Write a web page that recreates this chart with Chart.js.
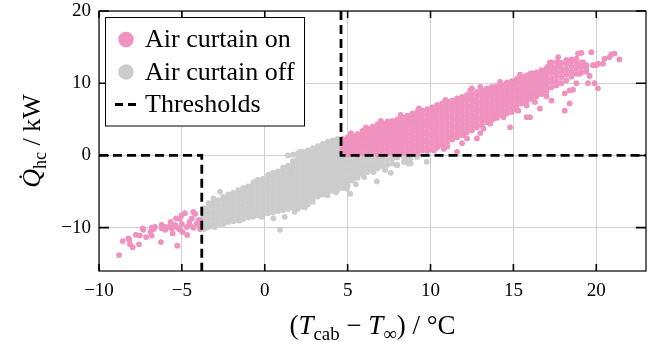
<!DOCTYPE html>
<html>
<head>
<meta charset="UTF-8">
<title>Air curtain heat flow</title>
<script src="https://cdn.jsdelivr.net/npm/chart.js@4.4.0/dist/chart.umd.min.js"></script>
<style>
  body { margin: 0; background: #fff; }
  #wrap { width: 667px; height: 342px; }
</style>
</head>
<body>
<div id="wrap"><canvas id="myChart" width="667" height="342"></canvas></div>
<script>
// axis ranges, ticks and thresholds
const xRange = [-10, 23];
const yRange = [-16, 20];
const xTicks = [-10, -5, 0, 5, 10, 15, 20];
const yTicks = [-10, 0, 10, 20];
const thresholdLow = -3.8;   // temperature diff, lower threshold
const thresholdHigh = 4.6;   // temperature diff, upper threshold
const thresholdQ = 0;        // heat flow threshold
const legendLabels = ['Air curtain on', 'Air curtain off', 'Thresholds'];

// air curtain on - dense band, read column by column [x, [y...]]
const onColumns = [
  [4.7,[0.2,0.7,1.3,1.8,2.3]],
  [5.0,[0.15,0.5,1.0,1.6,2.1,2.5]],
  [5.3,[0.3,0.8,1.4,1.9,2.4,2.75]],
  [5.6,[0.1,0.6,1.1,1.7,2.2,2.7,3.0]],
  [5.9,[0.3,0.9,1.4,2.0,2.5,2.9,3.4]],
  [6.2,[0.15,0.6,1.2,1.7,2.3,2.8,3.3,3.7]],
  [6.5,[0.4,0.9,1.5,2.0,2.6,3.1,3.5,4.0]],
  [6.8,[0.1,0.7,1.2,1.8,2.3,2.9,3.4,3.9,4.3]],
  [7.1,[0.3,0.9,1.5,2.0,2.6,3.1,3.7,4.1,4.5]],
  [7.4,[0.2,0.6,1.2,1.7,2.3,2.8,3.4,3.9,4.4,4.7]],
  [7.7,[0.4,1.0,1.5,2.1,2.6,3.2,3.7,4.2,4.8]],
  [8.0,[0.1,0.7,1.3,1.8,2.4,2.9,3.5,4.0,4.5,5.0]],
  [8.3,[0.4,1.0,1.6,2.1,2.7,3.2,3.8,4.3,4.8,5.3]],
  [8.6,[0.2,0.8,1.3,1.9,2.4,3.0,3.5,4.1,4.6,5.1,5.5]],
  [8.9,[0.5,1.1,1.6,2.2,2.7,3.3,3.8,4.4,4.9,5.4,5.8]],
  [9.2,[0.3,0.9,1.4,2.0,2.5,3.1,3.6,4.2,4.7,5.2,5.7,6.1]],
  [9.5,[0.7,1.2,1.8,2.3,2.9,3.4,4.0,4.5,5.0,5.6,6.2]],
  [9.8,[0.6,1.0,1.6,2.1,2.7,3.2,3.8,4.3,4.9,5.4,5.9,6.4]],
  [10.1,[0.8,1.3,1.9,2.4,3.0,3.5,4.1,4.6,5.2,5.7,6.2,6.7]],
  [10.4,[1.1,1.6,2.2,2.7,3.3,3.8,4.4,4.9,5.5,6.0,6.5,7.0]],
  [10.7,[1.4,1.9,2.5,3.0,3.6,4.1,4.7,5.2,5.8,6.3,6.8,7.2]],
  [11.0,[1.7,2.3,2.9,3.4,4.0,4.5,5.1,5.6,6.2,6.7,7.1,7.5]],
  [11.3,[2.2,2.7,3.2,3.8,4.3,4.9,5.4,6.0,6.5,7.0,7.6]],
  [11.6,[2.5,3.0,3.6,4.1,4.7,5.2,5.8,6.3,6.9,7.4,7.9]],
  [11.9,[2.8,3.4,3.9,4.5,5.0,5.6,6.1,6.7,7.2,7.7,8.1]],
  [12.2,[3.2,3.7,4.3,4.8,5.4,5.9,6.5,7.0,7.6,8.0,8.4]],
  [12.5,[3.5,4.1,4.6,5.2,5.7,6.3,6.8,7.4,7.9,8.5]],
  [12.8,[3.9,4.4,5.0,5.5,6.1,6.6,7.2,7.7,8.3,8.8]],
  [13.1,[4.2,4.8,5.3,5.9,6.4,7.0,7.5,8.1,8.6,9.0]],
  [13.4,[4.6,5.1,5.7,6.2,6.8,7.3,7.9,8.4,8.9,9.3]],
  [13.7,[4.9,5.4,6.0,6.5,7.1,7.6,8.2,8.7,9.2,9.5]],
  [14.0,[5.2,5.7,6.3,6.8,7.4,7.9,8.5,9.0,9.6]],
  [14.3,[5.5,6.0,6.6,7.1,7.7,8.2,8.8,9.3,9.8]],
  [14.6,[5.8,6.3,6.9,7.4,8.0,8.5,9.1,9.6,10.1]],
  [14.9,[6.6,7.2,7.7,8.3,8.8,9.4,9.9,10.3]],
  [15.2,[6.3,6.9,7.5,8.0,8.6,9.1,9.7,10.2,10.6]],
  [15.5,[7.2,7.8,8.3,8.9,9.4,10.0,10.5,10.9]],
  [15.8,[6.9,7.5,8.1,8.6,9.2,9.7,10.3,10.8,11.1]],
  [16.1,[7.8,8.4,8.9,9.5,10.0,10.6,11.1,11.4]],
  [16.4,[8.2,8.7,9.3,9.8,10.4,10.9,11.5]],
  [16.7,[8.5,9.1,9.6,10.2,10.7,11.3,11.8]],
  [17.0,[8.9,9.5,10.0,10.6,11.1,11.7,12.1]],
  [17.3,[9.4,10.1,10.7,11.4,12.0,12.5]],
  [17.6,[9.7,10.3,11.0,11.6,12.2,12.9]],
  [17.9,[10.0,10.8,11.5,12.1,12.8]],
  [18.2,[10.4,11.2,11.9,12.6,13.2]],
  [18.5,[10.9,11.6,12.3,13.0]],
  [18.8,[11.3,12.0,12.7,13.4]],
  [19.1,[11.5,12.2,12.9]],
  [19.4,[11.8,12.5]]
];

// air curtain on - loose points around the band [x, y]
const onScatter = [
  [12.5,9.3],[16.0,11.3],[17.1,12.3],[17.2,12.9],[17.7,13.6],[18.9,14.1],[19.1,14.2],[19.7,14.3],
  [21.1,14.1],[21.4,13.3],[20.8,13.6],[20.9,14.0],[20.4,12.7],[20.5,13.4],[20.0,12.5],[20.1,12.7],
  [19.8,12.5],[19.4,11.6],[19.5,10.0],[19.9,10.0],[20.1,9.3],[18.8,10.0],[18.4,9.0],[18.6,9.1],
  [18.1,8.6],[18.4,7.2],[18.1,6.2],[16.6,6.5],[16.0,5.3],[15.8,5.3],[14.8,3.9],[14.9,6.0],
  [14.4,5.3],[13.8,5.1],[12.8,2.35],[12.2,2.35],[11.6,0.5],[10.2,0.7],[11.0,1.2],[13.2,3.7],
  [13.6,4.4],[14.0,5.8],[11.5,7.4],[10.3,1.0],[12.0,2.9],[15.3,6.2],[17.3,7.6],[19.2,12.9],
  [19.4,12.3],[18.5,13.3],[18.2,13.2],[17.8,12.8],[17.3,12.9],[16.8,11.3],[12.4,9.0],[9.3,6.5],
  [8.2,5.6],[7.0,4.8],[14.2,10.2],[15.4,11.2],[13.0,9.5],[10.9,7.7],[6.1,3.9],[5.2,3.1],
  [19.0,11.3],[19.6,11.0],[18.9,12.5],[10.8,0.9],[11.9,1.7],[13.0,3.1],[16.3,7.4],[17.0,8.2]
];

// air curtain on - cold side (below lower threshold) [x, y]
const onColdSide = [
  [-8.79,-13.8],[-8.57,-11.85],[-8.23,-11.5],[-8.17,-11.7],[-8.13,-12.3],[-7.97,-12.7],[-7.77,-11.0],
  [-7.53,-11.1],[-7.59,-12.3],[-7.16,-11.3],[-6.82,-11.1],[-7.33,-10.3],[-7.37,-10.1],[-6.82,-10.0],
  [-6.62,-9.9],[-6.7,-10.2],[-6.22,-9.6],[-6.2,-10.1],[-6.02,-9.9],[-6.0,-10.3],[-6.26,-12.0],
  [-5.68,-9.2],[-5.62,-10.1],[-5.56,-10.8],[-5.4,-9.6],[-5.35,-8.7],[-5.2,-10.1],[-5.1,-10.3],
  [-5.28,-12.5],[-5.02,-8.3],[-4.82,-8.0],[-4.95,-10.6],[-4.68,-11.0],[-4.55,-9.2],[-4.4,-8.7],
  [-4.31,-7.8],[-4.2,-8.1],[-4.1,-9.4],[-4.0,-9.0],[-3.95,-9.7],[-4.5,-9.7],[-5.12,-8.8],
  [-5.8,-9.9],[-3.9,-8.95],[-4.7,-9.9],[-5.0,-9.5],[-5.5,-9.9],[-6.9,-10.6],[-4.3,-10.0],[-3.9,-10.2]
];

// air curtain off - dense band [x, [y...]]
const offColumns = [
  [-3.7,[-10.2,-9.6,-9.0,-8.5,-7.9,-7.3]],
  [-3.4,[-9.9,-9.4,-8.8,-8.2,-7.7,-7.1,-6.6]],
  [-3.1,[-9.8,-9.2,-8.7,-8.1,-7.6,-7.0,-6.4]],
  [-2.8,[-9.6,-9.0,-8.5,-7.9,-7.4,-6.8,-6.2]],
  [-2.5,[-9.5,-8.9,-8.3,-7.8,-7.2,-6.7,-6.1,-5.7]],
  [-2.2,[-9.2,-8.7,-8.1,-7.6,-7.0,-6.5,-5.9,-5.4]],
  [-1.9,[-9.1,-8.5,-8.0,-7.4,-6.9,-6.3,-5.8,-5.2]],
  [-1.6,[-9.0,-8.4,-7.9,-7.3,-6.8,-6.2,-5.6,-5.1,-4.8]],
  [-1.3,[-8.8,-8.2,-7.7,-7.1,-6.6,-6.0,-5.5,-4.9,-4.5]],
  [-1.0,[-8.6,-8.1,-7.5,-7.0,-6.4,-5.9,-5.3,-4.8,-4.3]],
  [-0.7,[-8.5,-7.9,-7.4,-6.8,-6.3,-5.7,-5.2,-4.6,-4.1,-3.8]],
  [-0.4,[-8.3,-7.8,-7.2,-6.7,-6.1,-5.6,-5.0,-4.5,-3.9,-3.4]],
  [-0.1,[-8.2,-7.6,-7.1,-6.5,-6.0,-5.4,-4.9,-4.3,-3.8,-3.2]],
  [0.2,[-8.0,-7.5,-6.9,-6.4,-5.8,-5.3,-4.7,-4.2,-3.6,-3.1,-2.7]],
  [0.5,[-7.9,-7.3,-6.8,-6.2,-5.7,-5.1,-4.6,-4.0,-3.5,-2.9,-2.4]],
  [0.8,[-7.7,-7.2,-6.6,-6.1,-5.5,-5.0,-4.4,-3.9,-3.3,-2.8,-2.2]],
  [1.1,[-7.6,-7.0,-6.5,-5.9,-5.4,-4.8,-4.3,-3.7,-3.2,-2.6,-2.1,-1.7]],
  [1.4,[-7.4,-6.9,-6.3,-5.8,-5.2,-4.7,-4.1,-3.6,-3.0,-2.5,-1.9,-1.4,0.0]],
  [1.7,[-7.2,-6.7,-6.1,-5.6,-5.0,-4.5,-3.9,-3.4,-2.8,-2.3,-1.7,-1.2,-0.8,0.1]],
  [2.0,[-7.4,-6.9,-6.4,-5.8,-5.3,-4.7,-4.2,-3.6,-3.1,-2.5,-2.0,-1.4,-0.9,-0.4,0.3]],
  [2.3,[-7.1,-6.6,-6.1,-5.5,-5.0,-4.4,-3.9,-3.3,-2.8,-2.2,-1.7,-1.1,-0.6,-0.1,0.5]],
  [2.6,[-6.8,-6.3,-5.8,-5.2,-4.7,-4.1,-3.6,-3.0,-2.5,-1.9,-1.4,-0.8,-0.3,0.2,0.7]],
  [2.9,[-6.4,-6.0,-5.5,-4.9,-4.4,-3.8,-3.3,-2.7,-2.2,-1.6,-1.1,-0.5,0.0,0.5,1.0]],
  [3.2,[-5.7,-5.2,-4.6,-4.1,-3.5,-3.0,-2.4,-1.9,-1.3,-0.8,-0.2,0.3,0.8,1.3]],
  [3.5,[-5.4,-4.9,-4.3,-3.8,-3.2,-2.7,-2.1,-1.6,-1.0,-0.5,0.1,0.6,1.1,1.6]],
  [3.8,[-5.1,-4.6,-4.0,-3.5,-2.9,-2.4,-1.8,-1.3,-0.7,-0.2,0.4,0.9,1.4,1.9]],
  [4.1,[-4.9,-4.4,-3.8,-3.3,-2.7,-2.2,-1.6,-1.1,-0.5,0.0,0.6,1.1,1.6,2.1]],
  [4.4,[-4.7,-4.2,-3.6,-3.1,-2.5,-2.0,-1.4,-0.9,-0.3,0.2,0.8,1.3,1.8,2.3]],
  [4.7,[-4.5,-3.9,-3.4,-2.8,-2.3,-1.7,-1.2,-0.6,-0.1]],
  [5.0,[-4.2,-3.6,-3.1,-2.5,-2.0,-1.4,-0.9,-0.3]],
  [5.3,[-3.5,-3.0,-2.4,-1.9,-1.3,-0.8,-0.2]],
  [5.6,[-3.1,-2.6,-2.0,-1.5,-0.9,-0.4]],
  [5.9,[-2.6,-2.1,-1.5,-1.0,-0.4]],
  [6.2,[-2.3,-1.7,-1.2,-0.6,-0.1]],
  [6.5,[-2.1,-1.5,-1.0,-0.4]],
  [6.8,[-1.8,-1.2,-0.6]],
  [7.1,[-1.5,-0.9,-0.3]],
  [7.4,[-1.3,-0.6]],
  [7.7,[-1.1,-0.4]],
  [8.0,[-1.3,-0.3]],
  [8.4,[-0.9,-0.2]],
  [8.8,[-1.1,-0.4]]
];

// air curtain off - loose points [x, y]
const offScatter = [
  [4.95,-4.6],[5.15,-5.3],[6.76,-3.6],[6.56,-2.3],[7.26,-2.0],[7.97,-1.35],[8.67,-1.1],[8.67,-0.4],
  [9.2,-0.2],[9.77,-0.88],[0.92,-10.3],[0.52,-8.7],[-2.7,-5.0],[-3.1,-5.95],[-2.1,-5.5],[-0.6,-3.6],
  [3.44,-5.3],[3.8,-5.5],[2.43,-7.2],[1.2,-8.5],[-0.2,-8.5],[-3.0,-9.9],[-3.6,-10.1],[-1.5,-9.0],
  [6.0,-3.0],[5.5,-4.0],[4.3,-5.1],[7.6,-2.4],[1.6,-2.3],[0.4,-2.6],[2.1,0.5],[1.8,-7.8]
];

function fromColumns(cols) {
  var pts = [];
  cols.forEach(function (c) {
    c[1].forEach(function (y) { pts.push({ x: c[0], y: y }); });
  });
  return pts;
}
function fromPairs(list) {
  return list.map(function (p) { return { x: p[0], y: p[1] }; });
}

const onPoints = fromColumns(onColumns).concat(fromPairs(onScatter), fromPairs(onColdSide));
const offPoints = fromColumns(offColumns).concat(fromPairs(offScatter));

// threshold polylines built from the threshold values and axis limits
const lowLine = [
  { x: xRange[0], y: thresholdQ }, { x: thresholdLow, y: thresholdQ }, { x: thresholdLow, y: yRange[0] }
];
const highLine = [
  { x: thresholdHigh, y: yRange[1] }, { x: thresholdHigh, y: thresholdQ }, { x: xRange[1], y: thresholdQ }
];

const serif = "'Liberation Serif', 'Times New Roman', serif";
const pink = '#ef92bf';
const grey = '#cccccc';

function fmt(v) {
  return v < 0 ? '\u2212' + Math.abs(v) : String(v);
}

function richText(ctx, parts, x, y, size) {
  var w = 0;
  parts.forEach(function (p) {
    ctx.font = (p.it ? 'italic ' : '') + (p.sub ? size * 0.7 : size) + 'px ' + serif;
    w += ctx.measureText(p.t).width;
  });
  var cx = x - w / 2;
  parts.forEach(function (p) {
    ctx.font = (p.it ? 'italic ' : '') + (p.sub ? size * 0.7 : size) + 'px ' + serif;
    ctx.fillText(p.t, cx, y + (p.sub ? size * 0.22 : 0));
    cx += ctx.measureText(p.t).width;
  });
}

const decorations = {
  id: 'decorations',
  afterDraw: function (chart) {
    const ctx = chart.ctx;
    const a = chart.chartArea;
    const xs = chart.scales.x, ys = chart.scales.y;
    ctx.save();
    // frame
    ctx.strokeStyle = '#000';
    ctx.lineWidth = 1.2;
    ctx.strokeRect(a.left, a.top, a.right - a.left, a.bottom - a.top);
    // inward ticks on all sides
    ctx.lineWidth = 1.6;
    ctx.beginPath();
    xTicks.forEach(function (v) {
      var px = xs.getPixelForValue(v);
      ctx.moveTo(px, a.bottom); ctx.lineTo(px, a.bottom - 7);
      ctx.moveTo(px, a.top); ctx.lineTo(px, a.top + 7);
    });
    yTicks.forEach(function (v) {
      var py = ys.getPixelForValue(v);
      ctx.moveTo(a.left, py); ctx.lineTo(a.left + 10, py);
      ctx.moveTo(a.right, py); ctx.lineTo(a.right - 10, py);
    });
    ctx.stroke();

    // legend box
    var bx = a.left + 6.5, by = a.top + 6.5, bw = 199, bh = 108.5;
    ctx.fillStyle = '#fff';
    ctx.fillRect(bx, by, bw, bh);
    ctx.lineWidth = 1;
    ctx.strokeStyle = '#000';
    ctx.strokeRect(bx, by, bw, bh);
    var rows = [by + 22, by + 54.5, by + 87];
    var mx = bx + 20.5;
    ctx.fillStyle = pink;
    ctx.beginPath(); ctx.arc(mx, rows[0], 7.8, 0, Math.PI * 2); ctx.fill();
    ctx.fillStyle = grey;
    ctx.beginPath(); ctx.arc(mx, rows[1], 7.8, 0, Math.PI * 2); ctx.fill();
    ctx.strokeStyle = '#000';
    ctx.lineWidth = 3;
    ctx.setLineDash([8, 5]);
    ctx.beginPath(); ctx.moveTo(mx - 11, rows[2]); ctx.lineTo(mx + 11, rows[2]); ctx.stroke();
    ctx.setLineDash([]);
    ctx.fillStyle = '#000';
    ctx.font = '26px ' + serif;
    ctx.textBaseline = 'alphabetic';
    ctx.textAlign = 'left';
    legendLabels.forEach(function (t, i) { ctx.fillText(t, bx + 39.5, rows[i] + 7.5); });

    // axis titles
    richText(ctx, [
      { t: '(' }, { t: 'T', it: true }, { t: 'cab', sub: true }, { t: ' \u2212 ' },
      { t: 'T', it: true }, { t: '\u221E', sub: true }, { t: ') / \u00B0C' }
    ], (a.left + a.right) / 2, 334, 27);
    ctx.translate(40, (a.top + a.bottom) / 2);
    ctx.rotate(-Math.PI / 2);
    richText(ctx, [
      { t: 'Q\u0307', it: true }, { t: 'hc', sub: true }, { t: ' / kW' }
    ], 0, 0, 26);
    ctx.restore();
  }
};

const ctx = document.getElementById('myChart').getContext('2d');
const myChart = new Chart(ctx, {
  type: 'scatter',
  data: {
    datasets: [
      { label: legendLabels[2], type: 'line', data: lowLine, borderColor: '#000', borderWidth: 2.8,
        borderDash: [9, 5], pointRadius: 0, showLine: true, fill: false, order: 0 },
      { label: legendLabels[2], type: 'line', data: highLine, borderColor: '#000', borderWidth: 2.8,
        borderDash: [9, 5], pointRadius: 0, showLine: true, fill: false, order: 0 },
      { label: legendLabels[0], data: onPoints, backgroundColor: pink, pointBackgroundColor: pink,
        pointBorderWidth: 0, pointRadius: 2.9, order: 1 },
      { label: legendLabels[1], data: offPoints, backgroundColor: grey, pointBackgroundColor: grey,
        pointBorderWidth: 0, pointRadius: 2.9, order: 2 }
    ]
  },
  options: {
    responsive: false,
    animation: false,
    events: [],
    layout: { padding: { top: 11, right: 21, left: 0, bottom: 0 } },
    plugins: { legend: { display: false }, tooltip: { enabled: false } },
    scales: {
      x: {
        type: 'linear', min: xRange[0], max: xRange[1],
        afterBuildTicks: function (s) { s.ticks = xTicks.map(function (v) { return { value: v }; }); },
        afterFit: function (s) { s.height = 71; s.paddingLeft = 0; s.paddingRight = 0; },
        grid: { color: '#d2d2d2', lineWidth: 1, drawTicks: false },
        border: { display: false },
        ticks: { font: { family: serif, size: 19 }, color: '#000', padding: 9, maxRotation: 0, callback: fmt }
      },
      y: {
        type: 'linear', min: yRange[0], max: yRange[1],
        afterBuildTicks: function (s) { s.ticks = yTicks.map(function (v) { return { value: v }; }); },
        afterFit: function (s) { s.width = 99; s.paddingTop = 0; s.paddingBottom = 0; },
        grid: { color: '#d2d2d2', lineWidth: 1, drawTicks: false },
        border: { display: false },
        ticks: { font: { family: serif, size: 19 }, color: '#000', padding: 8, callback: fmt }
      }
    }
  },
  plugins: [decorations]
});
</script>
</body>
</html>
